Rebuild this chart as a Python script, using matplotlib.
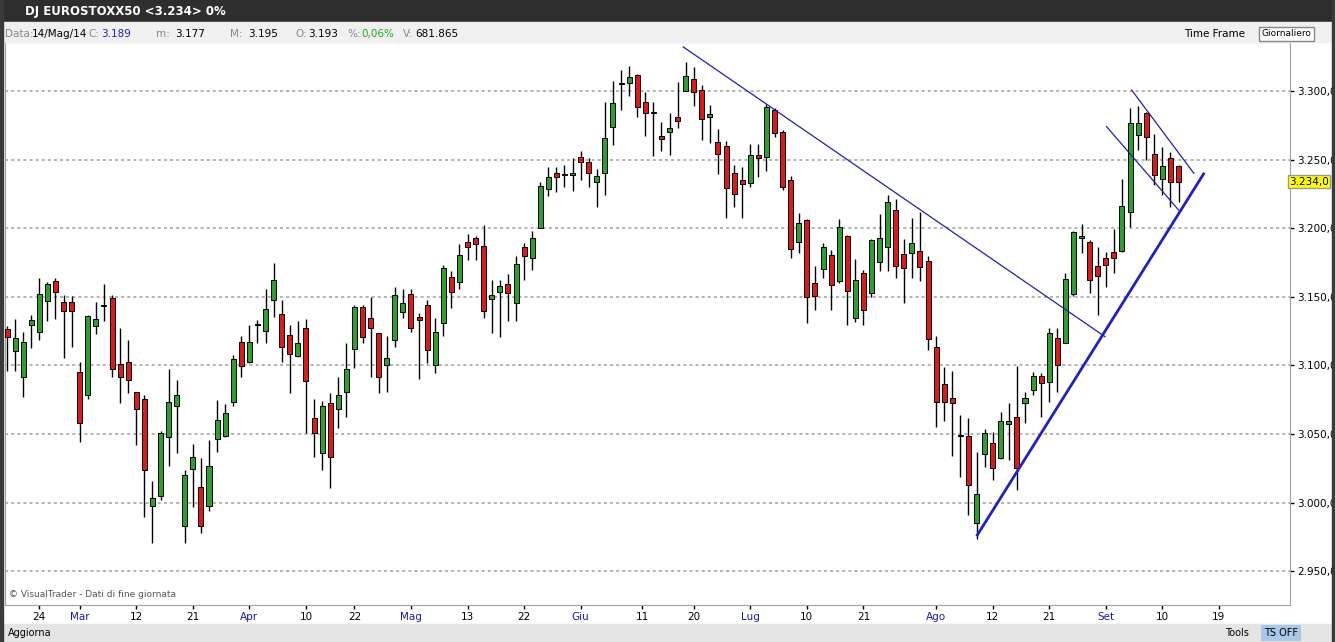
import matplotlib
matplotlib.use("Agg")
import matplotlib.pyplot as plt
from matplotlib.patches import Rectangle
import numpy as np

# OHLC (DJ EUROSTOXX50 daily, Feb-Sep 2014)
opens = [3126.3, 3110.7, 3091.8, 3129.2, 3124.1, 3146.7, 3161.3, 3146.2, 3146.2, 3094.9,
         3078.2, 3128.9, 3143.0, 3148.9, 3100.8, 3102.2, 3080.4, 3075.2, 2997.7, 3005.0,
         3048.0, 3070.6, 2983.2, 3024.2, 3011.1, 2997.7, 3046.6, 3048.8, 3073.5, 3116.8,
         3102.7, 3129.2, 3124.8, 3147.9, 3137.2, 3121.9, 3107.1, 3127.0, 3061.4, 3035.9,
         3072.8, 3068.1, 3080.8, 3111.6, 3142.7, 3134.3, 3123.3, 3100.3, 3118.2, 3138.6,
         3151.8, 3135.0, 3143.8, 3100.3, 3131.1, 3164.2, 3161.0, 3189.7, 3192.6, 3187.0,
         3148.6, 3153.7, 3159.3, 3145.7, 3186.0, 3178.5, 3200.4, 3228.8, 3240.2, 3238.5,
         3238.5, 3251.6, 3248.0, 3233.9, 3240.0, 3273.5, 3304.9, 3305.6, 3311.7, 3291.7,
         3283.7, 3267.2, 3270.4, 3281.3, 3300.3, 3308.5, 3300.7, 3281.3, 3262.6, 3259.9,
         3240.0, 3235.1, 3232.7, 3253.1, 3251.7, 3286.2, 3269.9, 3235.1, 3189.7, 3206.0,
         3159.8, 3170.0, 3180.2, 3161.7, 3194.3, 3134.8, 3167.1, 3153.0, 3175.6, 3186.5,
         3213.3, 3181.2, 3181.7, 3183.4, 3176.3, 3113.6, 3086.4, 3075.9, 3048.7, 3048.5,
         2985.3, 3035.1, 3043.1, 3032.2, 3057.2, 3062.6, 3072.8, 3082.0, 3092.2, 3088.1,
         3119.7, 3116.0, 3151.7, 3192.6, 3189.7, 3172.4, 3178.0, 3182.9, 3183.6, 3211.5,
         3267.9, 3283.7, 3253.8, 3235.6, 3250.9, 3245.3]
highs = [3128.7, 3133.6, 3124.1, 3136.5, 3163.7, 3160.5, 3163.7, 3151.3, 3150.6, 3102.2,
         3136.7, 3146.0, 3159.3, 3151.3, 3127.0, 3118.5, 3080.4, 3078.4, 3015.7, 3052.4,
         3097.1, 3089.3, 3023.7, 3042.7, 3032.2, 3045.6, 3074.8, 3071.9, 3107.6, 3121.2,
         3129.4, 3133.1, 3155.4, 3174.4, 3147.7, 3129.4, 3132.4, 3133.6, 3075.2, 3074.3,
         3080.1, 3091.7, 3116.0, 3144.0, 3144.0, 3149.6, 3123.8, 3121.4, 3156.9, 3155.4,
         3155.4, 3137.9, 3147.6, 3134.3, 3173.2, 3168.8, 3188.5, 3195.8, 3194.3, 3202.3,
         3162.2, 3162.2, 3166.6, 3180.0, 3189.4, 3198.2, 3233.9, 3244.4, 3244.4, 3245.8,
         3250.9, 3256.5, 3250.9, 3243.1, 3291.7, 3307.5, 3315.3, 3318.2, 3312.4, 3299.5,
         3292.2, 3277.7, 3284.2, 3306.3, 3320.9, 3317.3, 3304.4, 3289.8, 3272.1, 3263.6,
         3246.1, 3244.4, 3261.1, 3261.1, 3290.5, 3287.4, 3271.6, 3238.0, 3210.8, 3206.5,
         3172.4, 3189.4, 3184.1, 3206.5, 3195.0, 3177.3, 3169.5, 3191.9, 3210.3, 3224.2,
         3221.3, 3192.1, 3207.2, 3212.0, 3180.0, 3121.4, 3099.0, 3096.1, 3063.8, 3061.4,
         3037.0, 3053.3, 3051.6, 3066.2, 3072.8, 3099.5, 3080.8, 3095.4, 3094.2, 3127.0,
         3127.0, 3167.5, 3197.9, 3203.0, 3191.4, 3186.5, 3182.9, 3199.1, 3235.6, 3287.3,
         3289.0, 3284.9, 3268.4, 3259.4, 3255.8, 3246.0]
lows = [3096.1, 3096.1, 3077.2, 3112.9, 3118.5, 3132.4, 3133.8, 3105.1, 3113.6, 3043.9,
        3075.7, 3123.1, 3132.4, 3091.8, 3072.8, 3080.1, 3042.2, 2989.7, 2970.3, 3001.9,
        3026.6, 3035.9, 2970.3, 2997.0, 2978.0, 2994.1, 3037.1, 3048.0, 3070.6, 3091.3,
        3102.0, 3116.1, 3116.1, 3135.5, 3102.7, 3080.1, 3105.9, 3050.9, 3033.0, 3023.7,
        3010.3, 3054.0, 3062.6, 3097.8, 3116.5, 3091.3, 3080.1, 3080.8, 3113.1, 3134.3,
        3124.5, 3089.8, 3102.0, 3094.7, 3121.4, 3142.1, 3155.6, 3176.8, 3176.8, 3134.3,
        3123.8, 3120.9, 3132.6, 3132.6, 3162.2, 3169.5, 3200.4, 3223.5, 3226.6, 3229.8,
        3227.3, 3235.1, 3230.3, 3215.7, 3224.2, 3260.6, 3286.2, 3296.6, 3281.3, 3267.2,
        3252.6, 3256.5, 3253.4, 3273.3, 3300.3, 3289.1, 3264.3, 3261.9, 3239.5, 3207.2,
        3215.7, 3207.2, 3229.8, 3237.6, 3241.9, 3266.7, 3227.8, 3178.0, 3181.7, 3131.1,
        3140.4, 3163.5, 3140.4, 3160.3, 3129.4, 3131.8, 3129.4, 3150.1, 3169.0, 3169.0,
        3163.9, 3145.7, 3163.9, 3161.7, 3111.2, 3054.8, 3059.7, 3033.9, 3018.3, 2990.9,
        2973.1, 3026.1, 3016.4, 3031.5, 3031.0, 3009.1, 3058.2, 3078.4, 3062.6, 3073.5,
        3080.8, 3116.0, 3150.5, 3181.6, 3153.0, 3136.7, 3156.9, 3167.1, 3182.9, 3200.6,
        3257.0, 3249.7, 3231.5, 3224.2, 3215.7, 3219.3]
closes = [3120.9, 3119.7, 3116.8, 3133.1, 3151.8, 3159.3, 3153.7, 3139.9, 3139.9, 3058.2,
          3135.8, 3134.1, 3143.0, 3097.1, 3091.3, 3089.6, 3068.0, 3023.5, 3003.1, 3050.7,
          3073.0, 3078.4, 3020.1, 3033.2, 2983.2, 3026.4, 3059.9, 3065.5, 3104.6, 3099.8,
          3116.8, 3129.2, 3140.9, 3162.0, 3113.6, 3108.5, 3116.1, 3088.4, 3050.9, 3070.1,
          3032.9, 3078.1, 3097.1, 3142.7, 3120.9, 3127.0, 3091.8, 3105.1, 3151.0, 3145.2,
          3127.0, 3133.0, 3111.0, 3124.1, 3170.7, 3153.7, 3180.2, 3186.5, 3188.5, 3139.9,
          3151.0, 3157.6, 3153.0, 3173.9, 3180.0, 3192.6, 3230.7, 3237.1, 3237.1, 3238.5,
          3240.2, 3248.5, 3240.0, 3237.8, 3265.5, 3291.0, 3304.9, 3310.0, 3288.6, 3284.2,
          3283.7, 3264.8, 3272.8, 3278.4, 3311.0, 3299.5, 3279.8, 3283.2, 3253.8, 3229.1,
          3224.7, 3232.0, 3253.4, 3250.9, 3288.1, 3269.2, 3230.3, 3184.6, 3203.5, 3150.1,
          3150.6, 3186.0, 3158.8, 3200.6, 3154.4, 3162.2, 3140.4, 3191.4, 3192.6, 3219.3,
          3172.4, 3170.7, 3189.0, 3172.0, 3119.0, 3073.5, 3073.5, 3072.8, 3048.7, 3012.8,
          3006.0, 3050.4, 3024.9, 3059.4, 3059.6, 3024.9, 3075.9, 3092.5, 3086.9, 3123.3,
          3100.2, 3162.7, 3197.4, 3194.3, 3162.2, 3165.1, 3173.1, 3178.0, 3216.4, 3276.4,
          3276.9, 3266.7, 3238.7, 3245.3, 3233.9, 3233.9]

# trend lines: (index, price) endpoints
trend_down = ([83.7, 135.9], [3332.1, 3120.9])
trend_up = ([120.1, 148.1], [2976.3, 3239.5])
chan_top = ([139.2, 146.9], [3300.7, 3240.0])
chan_bot = ([136.1, 145.0], [3274.0, 3213.3])

tick_pos = [4, 9, 16, 23, 30, 37, 43, 50, 57, 64, 71, 78.6, 85, 92, 99, 106, 115, 122, 129, 136, 143, 150]
tick_lab = ["24", "Mar", "12", "21", "Apr", "10", "22", "Mag", "13", "22", "Giu", "11", "20",
            "Lug", "10", "21", "Ago", "12", "21", "Set", "10", "19"]
months = {"Mar", "Apr", "Mag", "Giu", "Lug", "Ago", "Set"}
price_levels = [2950, 3000, 3050, 3100, 3150, 3200, 3250, 3300]
last_price = 3234.0

fig = plt.figure(figsize=(13.35, 6.42), dpi=100, facecolor="white")

# window chrome
fig.patches.append(Rectangle((0, 1 - 22 / 642), 1, 22 / 642, transform=fig.transFigure,
                             color="#2e2e2e", zorder=0))
fig.patches.append(Rectangle((0, 1 - 42 / 642), 1, 20 / 642, transform=fig.transFigure,
                             color="#f0f0f0", zorder=0))
fig.patches.append(Rectangle((0, 0), 1, 18 / 642, transform=fig.transFigure,
                             color="#e4e4e4", zorder=0))
fig.patches.append(Rectangle((0, 0), 3 / 1335, 1, transform=fig.transFigure,
                             color="#3a3a3a", zorder=0))
fig.patches.append(Rectangle((1 - 3 / 1335, 0), 3 / 1335, 1, transform=fig.transFigure,
                             color="#3a3a3a", zorder=0))
fig.text(0.019, 1 - 12 / 642, "DJ EUROSTOXX50 <3.234> 0%", color="white",
         fontsize=8.5, fontweight="bold", va="center")
y_info = 1 - 34 / 642
info = [(0.004, "Data:", "#888888"), (0.024, "14/Mag/14", "black"), (0.066, "C:", "#888888"),
        (0.076, "3.189", "#2020c0"), (0.117, "m:", "#888888"), (0.131, "3.177", "black"),
        (0.172, "M:", "#888888"), (0.186, "3.195", "black"), (0.221, "O:", "#888888"),
        (0.231, "3.193", "black"), (0.26, "%:", "#888888"), (0.271, "0,06%", "#22aa22"),
        (0.302, "V:", "#888888"), (0.311, "681.865", "black")]
for xx, s, c in info:
    fig.text(xx, y_info, s, color=c, fontsize=7.5, va="center")
fig.text(0.887, y_info, "Time Frame", fontsize=7.5, va="center")
fig.text(0.945, y_info, "Giornaliero", fontsize=6.5, va="center",
         bbox=dict(facecolor="white", edgecolor="#888888", pad=2))
fig.text(0.006, 9 / 642, "Aggiorna", fontsize=7, va="center")
fig.text(0.918, 9 / 642, "Tools", fontsize=7, va="center")
fig.text(0.947, 9 / 642, "TS OFF", fontsize=7, va="center",
         bbox=dict(facecolor="#a8c8e8", edgecolor="none", pad=2))

ax = fig.add_axes([5 / 1335, 37 / 642, 1285 / 1335, 563 / 642])
ax.set_facecolor("white")
x = np.arange(len(closes))
o, h, l, c = map(np.array, (opens, highs, lows, closes))
up = c >= o
ax.vlines(x, l, h, color="black", lw=1, zorder=2)
ax.bar(x, np.where(np.abs(c - o) < 0.5, 0.8, np.abs(c - o)), bottom=np.minimum(o, c), width=0.62,
       color=np.where(up, "#2ca02c", "#dd1a1a"), edgecolor="black", lw=0.7, zorder=3)

ax.plot(*trend_down, color="#2020b0", lw=0.9, zorder=4)
ax.plot(*chan_top, color="#2020b0", lw=0.9, zorder=4)
ax.plot(*chan_bot, color="#2020b0", lw=0.9, zorder=4)
ax.plot(*trend_up, color="#2020c8", lw=2.0, zorder=4)

for p in price_levels:
    ax.axhline(p, color="#a0a0a0", lw=1.1, ls=(0, (2, 2)), zorder=1)

ax.set_xlim(-0.25, 158.8)
ax.set_ylim(2925.3, 3335.7)
ax.set_xticks(tick_pos)
ax.set_xticklabels(tick_lab, fontsize=7.5)
for t in ax.get_xticklabels():
    if t.get_text() in months:
        t.set_color("#1a1aa8")
ax.yaxis.tick_right()
ax.set_yticks(price_levels)
ax.set_yticklabels([f"{p / 1000:.3f},0" for p in price_levels], fontsize=7.5)
ax.tick_params(axis="both", length=3, width=1, pad=2)
for sp in ax.spines.values():
    sp.set_color("#a0a0a0")
ax.text(0.9995, last_price, "3.234,0", transform=ax.get_yaxis_transform(), fontsize=7.5,
        va="center", ha="left", bbox=dict(facecolor="#ffff00", edgecolor="#999999", pad=1.0))
ax.text(0.003, 0.01, "© VisualTrader - Dati di fine giornata", transform=ax.transAxes,
        fontsize=6.5, color="#555555", va="bottom")

fig.savefig("out.png", dpi=100, facecolor=fig.get_facecolor())
